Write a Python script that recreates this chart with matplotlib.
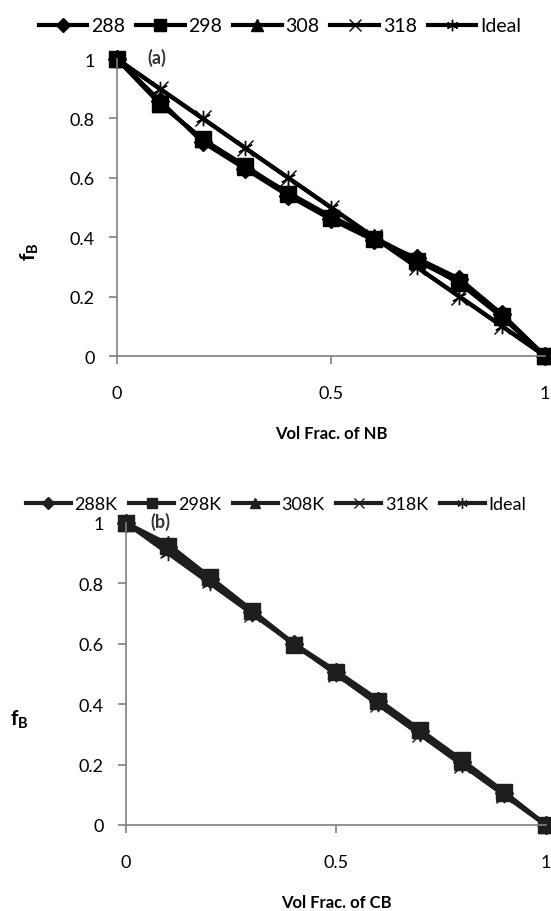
import matplotlib
matplotlib.use("Agg")
import matplotlib.pyplot as plt

plt.rcParams['font.family'] = ['Lato', 'DejaVu Sans']
plt.rcParams['mathtext.fontset'] = 'custom'
plt.rcParams['mathtext.rm'] = 'Lato'
plt.rcParams['mathtext.bf'] = 'Lato:bold'

# data
vol_frac = [0, 0.1, 0.2, 0.3, 0.4, 0.5, 0.6, 0.7, 0.8, 0.9, 1.0]

# panel (a): NB
a_288 = [1, 0.86, 0.72, 0.63, 0.54, 0.46, 0.39, 0.33, 0.26, 0.14, 0]
a_298 = [1, 0.85, 0.73, 0.64, 0.545, 0.465, 0.395, 0.32, 0.25, 0.135, 0]
a_308 = [1, 0.85, 0.73, 0.635, 0.55, 0.47, 0.40, 0.325, 0.245, 0.13, 0]
a_318 = [1, 0.9, 0.8, 0.7, 0.6, 0.5, 0.4, 0.3, 0.2, 0.1, 0]
a_ideal = [1, 0.9, 0.8, 0.7, 0.6, 0.5, 0.4, 0.3, 0.2, 0.1, 0]
a_labels = ['288', '298', '308', '318', 'Ideal']

# panel (b): CB
b_288 = [1, 0.92, 0.815, 0.705, 0.60, 0.505, 0.41, 0.31, 0.21, 0.105, 0]
b_298 = [1, 0.925, 0.82, 0.71, 0.595, 0.505, 0.41, 0.315, 0.215, 0.11, 0]
b_308 = [1, 0.93, 0.82, 0.71, 0.60, 0.51, 0.415, 0.315, 0.21, 0.105, 0]
b_318 = [1, 0.91, 0.81, 0.70, 0.60, 0.50, 0.40, 0.30, 0.20, 0.10, 0]
b_ideal = [1, 0.9, 0.8, 0.7, 0.6, 0.5, 0.4, 0.3, 0.2, 0.1, 0]
b_labels = ['288K', '298K', '308K', '318K', 'Ideal']

W, H = 551, 912
fig = plt.figure(figsize=(W / 100, H / 100), dpi=100)


def px_axes(x0, x1, ytop, ybot):
    return fig.add_axes([x0 / W, 1 - ybot / H, (x1 - x0) / W, (ybot - ytop) / H])


def draw_panel(ax, series, labels, color, xlabel, tag, tag_x):
    styles = [
        dict(marker='D', ms=9),
        dict(marker='s', ms=11),
        dict(marker='^', ms=11),
        dict(marker='x', ms=11, mew=1.0),
        dict(marker=(6, 2, 0), ms=11, mew=1.0),
    ]
    handles = []
    for ys, lab, st in zip(series, labels, styles):
        h, = ax.plot(vol_frac, ys, color=color, lw=3, label=lab,
                     clip_on=False, mec=color, mfc=color, **st)
        handles.append(h)
    ax.set_xlim(0, 1)
    ax.set_ylim(0, 1)
    ax.set_xticks([0, 0.5, 1])
    ax.set_xticklabels(['0', '0.5', '1'])
    ax.set_yticks([0, 0.2, 0.4, 0.6, 0.8, 1])
    ax.set_yticklabels(['0', '0.2', '0.4', '0.6', '0.8', '1'])
    for s in ['top', 'right']:
        ax.spines[s].set_visible(False)
    for s in ['left', 'bottom']:
        ax.spines[s].set_color('#808080')
        ax.spines[s].set_linewidth(1.2)
    ax.tick_params(axis='both', direction='out', length=6, width=1.2,
                   color='#808080', labelsize=13)
    ax.tick_params(axis='x', pad=15)
    ax.tick_params(axis='y', pad=10)
    ax.set_xlabel(xlabel, fontsize=12, fontweight='bold', labelpad=17)
    ax.text(tag_x, 1.007, tag, transform=ax.transAxes, fontsize=13,
            fontweight='bold', ha='center', va='center', color='#333333')
    return handles


ax1 = px_axes(117, 545, 60, 357)
h1 = draw_panel(ax1, [a_288, a_298, a_308, a_318, a_ideal], a_labels,
                'black', 'Vol Frac. of NB', '(a)', 0.093)
ax2 = px_axes(126, 546, 524, 826)
h2 = draw_panel(ax2, [b_288, b_298, b_308, b_318, b_ideal], b_labels,
                '#1e1e1e', 'Vol Frac. of CB', '(b)', 0.081)

fig.legend(handles=h1, bbox_to_anchor=(280 / W, 1 - 27 / H), loc='center',
           ncol=5, frameon=False, fontsize=14, handlelength=2.5,
           handletextpad=0.2, columnspacing=0.55, markerscale=0.75,
           borderaxespad=0)
fig.legend(handles=h2, bbox_to_anchor=(276 / W, 1 - 505 / H), loc='center',
           ncol=5, frameon=False, fontsize=13, handlelength=2.5,
           handletextpad=0.2, columnspacing=0.65, markerscale=0.7,
           borderaxespad=0)

fig.text(30 / W, 1 - 252 / H, r'$\mathbf{f}_\mathbf{B}$', rotation=90,
         fontsize=15, ha='center', va='center')
fig.text(19 / W, 1 - 720 / H, r'$\mathbf{f}_\mathbf{B}$',
         fontsize=15, ha='center', va='center')

fig.savefig('out.png', dpi=100)
